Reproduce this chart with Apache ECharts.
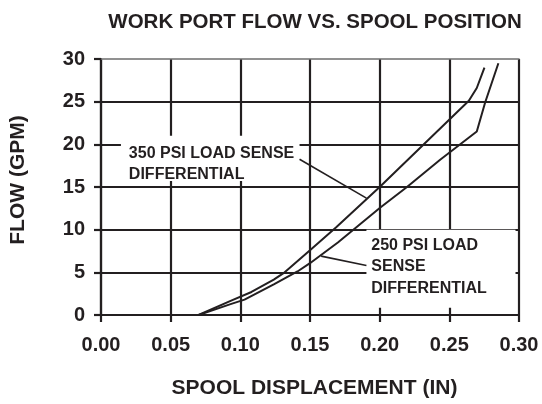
<!DOCTYPE html>
<html><head><meta charset="utf-8">
<script src="https://cdn.jsdelivr.net/npm/echarts@6/dist/echarts.min.js"></script>
<style>html,body{margin:0;padding:0;background:#fff}#c{width:542px;height:404px}</style>
</head><body><div id="c"></div>
<script>
// ---- data ----
const titleText = 'WORK PORT FLOW VS. SPOOL POSITION';
const xName = 'SPOOL DISPLACEMENT (IN)';
const yName = 'FLOW (GPM)';
const xTicks = [0.00, 0.05, 0.10, 0.15, 0.20, 0.25, 0.30];
const yTicks = [0, 5, 10, 15, 20, 25, 30];
// 350 PSI load sense differential: [spool displacement (in), flow (gpm)]
const flow350 = [[0.07,0],[0.093,1.65],[0.108,2.7],[0.124,4.15],[0.131,4.9],[0.150,7.6],[0.169,10.3],[0.200,15.0],[0.264,25.1],[0.2697,26.6],[0.2752,29.0]];
// 250 PSI load sense differential
const flow250 = [[0.07,0],[0.093,1.27],[0.103,1.8],[0.124,3.6],[0.141,5.1],[0.150,6.07],[0.170,8.5],[0.2005,12.6],[0.2196,15.0],[0.2434,18.2],[0.2697,21.5],[0.2757,24.9],[0.2852,29.5]];
const label350 = ['350 PSI LOAD SENSE', 'DIFFERENTIAL'];
const label250 = ['250 PSI LOAD', 'SENSE', 'DIFFERENTIAL'];

const INK = '#231f20';
const FONT = '"Liberation Sans", Arial, Helvetica, sans-serif';
const chart = echarts.init(document.getElementById('c'), null, {renderer: 'canvas'});

const lineStyle = {color: INK, width: 2.2};
const curveStyle = {color: INK, width: 2};
const option = {
  animation: false,
  backgroundColor: '#fff',
  title: {
    text: titleText, left: 310, top: 7, textAlign: 'center',
    textStyle: {fontFamily: FONT, fontWeight: 'bold', fontSize: 20.5, color: INK}
  },
  grid: {left: 100, right: 23, top: 59, bottom: 85, containLabel: false},
  xAxis: [{
    type: 'value', min: xTicks[0], max: xTicks[xTicks.length - 1], interval: 0.05,
    name: xName, nameLocation: 'middle', nameGap: 63,
    nameTextStyle: {fontFamily: FONT, fontWeight: 'bold', fontSize: 21, color: INK, padding: [0, 0, 0, 9]},
    axisLine: {show: true, lineStyle: lineStyle},
    axisTick: {show: true, length: 7, lineStyle: lineStyle},
    splitLine: {show: true, lineStyle: lineStyle},
    axisLabel: {margin: 20, formatter: v => v.toFixed(2), fontFamily: FONT, fontWeight: 'bold', fontSize: 20, color: INK}
  }, {
    type: 'value', position: 'top', min: 0, max: 0.3,
    axisLine: {show: true, lineStyle: {color: '#6d6d6d', width: 1.5}},
    axisTick: {show: false}, axisLabel: {show: false}, splitLine: {show: false}
  }],
  yAxis: {
    type: 'value', min: yTicks[0], max: yTicks[yTicks.length - 1], interval: 5,
    name: yName, nameLocation: 'middle', nameGap: 72, nameRotate: 90,
    nameTextStyle: {fontFamily: FONT, fontWeight: 'bold', fontSize: 21, color: INK, padding: [0, 0, 0, 14]},
    axisLine: {show: true, lineStyle: lineStyle},
    axisTick: {show: true, length: 7, lineStyle: lineStyle},
    splitLine: {show: true, showMaxLine: false, lineStyle: lineStyle},
    axisLabel: {margin: 16, fontFamily: FONT, fontWeight: 'bold', fontSize: 20, color: INK}
  },
  series: [
    {name: '350 PSI', type: 'line', data: flow350, showSymbol: false, symbol: 'none', lineStyle: curveStyle, z: 3},
    {name: '250 PSI', type: 'line', data: flow250, showSymbol: false, symbol: 'none', lineStyle: curveStyle, z: 3}
  ]
};
chart.setOption(option);

// annotations placed in data coordinates
function P(v, f) { return chart.convertToPixel({gridIndex: 0}, [v, f]); }
function box(v0, f0, v1, f1) {
  const a = P(v0, f0), b = P(v1, f1);
  return {type: 'rect', shape: {x: a[0], y: a[1], width: b[0] - a[0], height: b[1] - a[1]},
    style: {fill: '#fff'}, z: 50};
}
function lead(v0, f0, v1, f1) {
  const a = P(v0, f0), b = P(v1, f1);
  return {type: 'line', shape: {x1: a[0], y1: a[1], x2: b[0], y2: b[1]}, style: {stroke: INK, lineWidth: 1.6}, z: 51};
}
function txt(lines, v, f, lh) {
  const a = P(v, f);
  return {type: 'text', x: a[0], y: a[1], z: 52,
    style: {text: lines.join('\n'), fill: INK, font: 'bold 16px ' + FONT, lineHeight: lh, textVerticalAlign: 'top'}};
}
chart.setOption({graphic: [
  box(0.0143, 21.0, 0.1425, 15.7),
  txt(label350, 0.0200, 20.15, 21),
  lead(0.1425, 18.25, 0.1905, 13.7),
  box(0.1905, 10.0, 0.2975, 0.85),
  txt(label250, 0.194, 9.4, 21.5),
  lead(0.1905, 5.8, 0.158, 6.9)
]});
</script>
</body></html>
